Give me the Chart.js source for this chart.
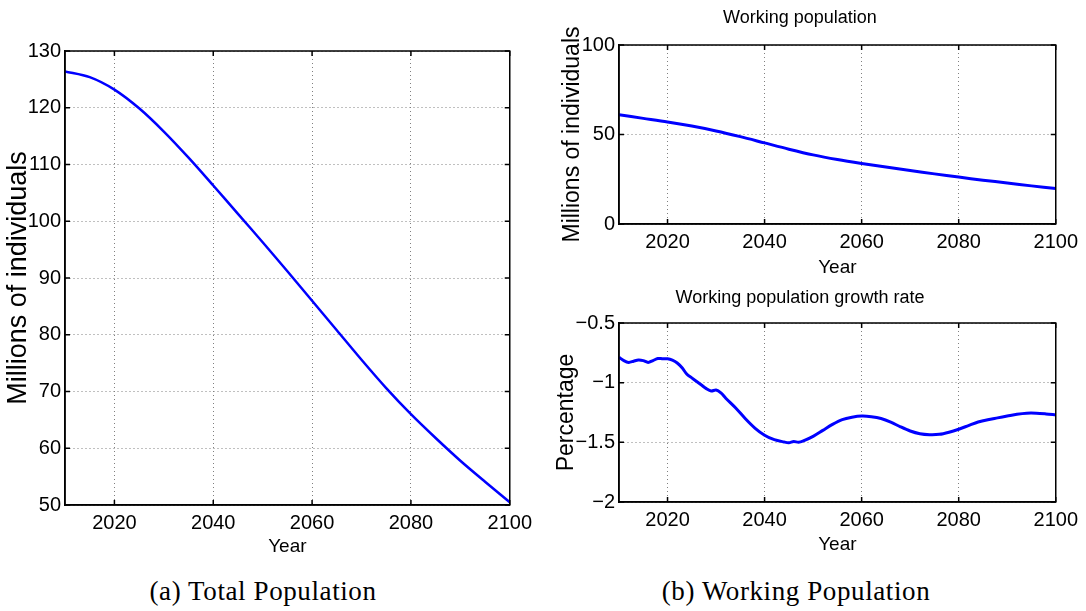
<!DOCTYPE html>
<html>
<head>
<meta charset="utf-8">
<script src="https://cdn.jsdelivr.net/npm/chart.js@4.4.1/dist/chart.umd.min.js"></script>
<style>
  body { margin: 0; background: #fff; width: 1086px; height: 611px; position: relative; overflow: hidden; }
  .box { position: absolute; }
  .cap { position: absolute; font-family: 'Liberation Serif', 'Times New Roman', serif; font-size: 27px; letter-spacing: 0.6px; color: #000; white-space: nowrap; transform: translateX(-50%); }
</style>
</head>
<body>
<div class="box" style="left:0;top:0;width:540px;height:560px"><canvas id="total-chart"></canvas></div>
<div class="box" style="left:540px;top:0;width:546px;height:285px"><canvas id="work-chart"></canvas></div>
<div class="box" style="left:540px;top:285px;width:546px;height:275px"><canvas id="rate-chart"></canvas></div>
<div class="cap" style="left:263px;top:576px">(a) Total Population</div>
<div class="cap" style="left:796px;top:576px">(b) Working Population</div>
<script>
let xTicks = [2020, 2040, 2060, 2080, 2100];

let totalYears = [2010, 2015, 2020, 2025, 2030, 2035, 2040, 2045, 2050, 2055, 2060, 2065, 2070, 2075, 2080, 2085, 2090, 2095, 2100];
let totalPop = [126.4, 125.4, 123.2, 119.9, 115.8, 111.2, 106.3, 101.3, 96.3, 91.2, 86.0, 80.8, 75.6, 70.6, 66.0, 61.8, 57.8, 54.1, 50.5];

let workYears = [2010, 2015, 2020, 2025, 2030, 2035, 2040, 2045, 2050, 2055, 2060, 2065, 2070, 2075, 2080, 2085, 2090, 2095, 2100];
let workPop = [61, 59, 57, 54.7, 52, 48.8, 45.3, 41.8, 38.6, 36, 33.8, 31.8, 29.9, 28, 26.2, 24.5, 22.9, 21.3, 19.8];

let rateYears = [2010, 2011, 2012, 2013, 2014, 2015, 2016, 2017, 2018, 2019, 2020, 2021, 2022, 2023, 2024, 2025, 2026, 2027, 2028, 2029, 2030, 2031, 2032, 2034, 2036, 2038, 2040, 2042, 2044, 2045, 2046, 2047, 2048, 2050, 2052, 2054, 2056, 2058, 2060, 2062, 2064, 2066, 2068, 2070, 2072, 2074, 2076, 2078, 2080, 2082, 2084, 2086, 2088, 2090, 2092, 2094, 2096, 2098, 2100];
let rateValues = [-0.787, -0.815, -0.83, -0.82, -0.81, -0.815, -0.83, -0.815, -0.797, -0.8, -0.8, -0.812, -0.835, -0.875, -0.93, -0.96, -0.99, -1.02, -1.05, -1.07, -1.062, -1.085, -1.13, -1.21, -1.3, -1.38, -1.44, -1.478, -1.497, -1.503, -1.493, -1.5, -1.488, -1.45, -1.4, -1.35, -1.31, -1.29, -1.28, -1.285, -1.3, -1.33, -1.37, -1.405, -1.428, -1.436, -1.433, -1.415, -1.39, -1.36, -1.33, -1.31, -1.295, -1.28, -1.265, -1.256, -1.256, -1.262, -1.27];

const fontFamily = "'Liberation Sans', Arial, sans-serif";

// box round the plot plus small inward tick marks, like matlab
const boxPlugin = {
    id: 'box',
    afterDraw(chart) {
        const {ctx, chartArea: a, scales} = chart;
        ctx.save();
        ctx.strokeStyle = '#000';
        ctx.lineWidth = 1.5;
        ctx.beginPath();
        scales.x.ticks.forEach(t => {
            const px = scales.x.getPixelForValue(t.value);
            ctx.moveTo(px, a.bottom); ctx.lineTo(px, a.bottom - 5);
            ctx.moveTo(px, a.top); ctx.lineTo(px, a.top + 5);
        });
        scales.y.ticks.forEach(t => {
            const py = scales.y.getPixelForValue(t.value);
            ctx.moveTo(a.left, py); ctx.lineTo(a.left + 5, py);
            ctx.moveTo(a.right, py); ctx.lineTo(a.right - 5, py);
        });
        ctx.stroke();
        ctx.strokeRect(a.left, a.top, a.right - a.left, a.bottom - a.top);
        ctx.restore();
    }
};

function makeChart(id, xs, ys, opts) {
    const points = xs.map((x, i) => ({x: x, y: ys[i]}));
    return new Chart(document.getElementById(id), {
        type: 'line',
        data: {
            datasets: [{
                data: points,
                borderColor: '#0000ff',
                borderWidth: opts.lineWidth,
                pointRadius: 0,
                tension: opts.tension,
                fill: false
            }]
        },
        options: {
            responsive: true,
            maintainAspectRatio: false,
            animation: false,
            layout: {padding: opts.padding},
            plugins: {
                legend: {display: false},
                tooltip: {enabled: false},
                title: opts.title ? {
                    display: true,
                    text: opts.title,
                    color: '#000',
                    font: {family: fontFamily, size: 18, weight: 'normal', lineHeight: 1},
                    padding: opts.titlePad
                } : {display: false}
            },
            scales: {
                x: {
                    type: 'linear',
                    min: 2010,
                    max: 2100,
                    afterBuildTicks: s => { s.ticks = xTicks.map(v => ({value: v})); },
                    afterFit: s => { s.height = opts.xHeight; },
                    ticks: {color: '#000', font: {family: fontFamily, size: 20, lineHeight: 1}, padding: 8, maxRotation: 0,
                        callback: v => String(v)},
                    grid: {color: '#808080', drawTicks: false, lineWidth: 1},
                    border: {display: true, color: '#000', width: 1.5, dash: [1, 3]},
                    title: {display: true, text: 'Year', color: '#000',
                        font: {family: fontFamily, size: 19, lineHeight: 1}, padding: {top: 0, bottom: opts.yearPad}}
                },
                y: {
                    min: opts.yMin,
                    max: opts.yMax,
                    afterFit: s => { s.width = opts.yWidth; },
                    ticks: {color: '#000', stepSize: opts.step, font: {family: fontFamily, size: 20, lineHeight: 1}, padding: 4,
                        callback: v => String(v).replace('-', '\u2212')},
                    grid: {color: '#808080', drawTicks: false, lineWidth: 1},
                    border: {display: true, color: '#000', width: 1.5, dash: [1, 3]},
                    title: {display: true, text: opts.yTitle, color: '#000',
                        font: {family: fontFamily, size: opts.yTitleSize, lineHeight: 1}, padding: {top: opts.yTitlePad, bottom: 0}}
                }
            }
        },
        plugins: [boxPlugin]
    });
}

const totalChart = makeChart('total-chart', totalYears, totalPop, {
    lineWidth: 2.5, tension: 0.3,
    padding: {top: 51, right: 30, left: 0, bottom: 0},
    xHeight: 55, yWidth: 65, yearPad: 3.5,
    yMin: 50, yMax: 130, step: 10,
    yTitle: 'Millions of individuals', yTitleSize: 27, yTitlePad: 5
});

const workChart = makeChart('work-chart', workYears, workPop, {
    lineWidth: 3, tension: 0.3,
    padding: {top: 0, right: 26, left: 0, bottom: 0},
    title: 'Working population', titlePad: {top: 9, bottom: 18},
    xHeight: 61, yWidth: 79, yearPad: 7.5,
    yMin: 0, yMax: 100, step: 50,
    yTitle: 'Millions of individuals', yTitleSize: 23, yTitlePad: 21
});

const rateChart = makeChart('rate-chart', rateYears, rateValues, {
    lineWidth: 3, tension: 0.3,
    padding: {top: 0, right: 26, left: 0, bottom: 0},
    title: 'Working population growth rate', titlePad: {top: 4, bottom: 16},
    xHeight: 58, yWidth: 79, yearPad: 5.5,
    yMin: -2, yMax: -0.5, step: 0.5,
    yTitle: 'Percentage', yTitleSize: 23, yTitlePad: 15
});
</script>
</body>
</html>
